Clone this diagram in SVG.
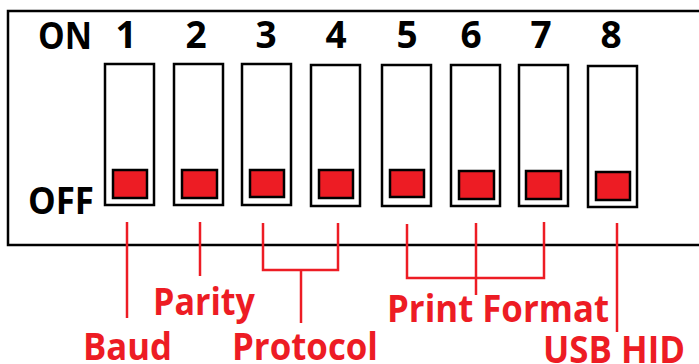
<svg xmlns="http://www.w3.org/2000/svg" width="699" height="364" viewBox="0 0 699 364">
<style>
.sw{fill:#fff;stroke:#000;stroke-width:2.5}
.kn{fill:#ED1C24;stroke:#000;stroke-width:2.5}
.bk{font-family:"Open Sans",Lato,sans-serif;font-weight:bold;font-size:37px;fill:#000}
.rd{font-family:"Open Sans",Lato,sans-serif;font-weight:bold;font-size:37px;fill:#ED1C24}
.ln{stroke:#ED1C24;stroke-width:2.5;fill:none}
</style>
<rect width="699" height="364" fill="#fff"/>
<g id="board">
<rect x="8" y="11" width="710" height="234" fill="none" stroke="#000" stroke-width="2.5"/>
<text class="bk" x="38" y="49" textLength="54" lengthAdjust="spacingAndGlyphs">ON</text>
<text class="bk" x="28" y="214" textLength="66" lengthAdjust="spacingAndGlyphs">OFF</text>
</g>
<g id="sw1"><rect class="sw" x="105" y="64" width="49" height="141"/><rect class="kn" x="113" y="170" width="34" height="28"/><text class="bk" x="126" y="48" text-anchor="middle">1</text></g>
<g id="sw2"><rect class="sw" x="174" y="64" width="49" height="141"/><rect class="kn" x="182" y="170" width="35" height="28"/><text class="bk" x="196" y="48" text-anchor="middle">2</text></g>
<g id="sw3"><rect class="sw" x="242" y="64" width="49" height="141"/><rect class="kn" x="250" y="170" width="34" height="27"/><text class="bk" x="266" y="48" text-anchor="middle">3</text></g>
<g id="sw4"><rect class="sw" x="311" y="65" width="49" height="141"/><rect class="kn" x="319" y="170" width="34" height="28"/><text class="bk" x="336" y="48" text-anchor="middle">4</text></g>
<g id="sw5"><rect class="sw" x="382" y="65" width="49" height="141"/><rect class="kn" x="390" y="170" width="34" height="27"/><text class="bk" x="407" y="48" text-anchor="middle">5</text></g>
<g id="sw6"><rect class="sw" x="451" y="65" width="49" height="141"/><rect class="kn" x="459" y="171" width="35" height="28"/><text class="bk" x="471" y="48" text-anchor="middle">6</text></g>
<g id="sw7"><rect class="sw" x="519" y="65" width="49" height="141"/><rect class="kn" x="526" y="171" width="35" height="28"/><text class="bk" x="541" y="48" text-anchor="middle">7</text></g>
<g id="sw8"><rect class="sw" x="588" y="66" width="49" height="141"/><rect class="kn" x="596" y="172" width="34" height="28"/><text class="bk" x="611" y="48" text-anchor="middle">8</text></g>
<g id="connectors">
<line class="ln" x1="127" y1="222" x2="127" y2="318"/>
<line class="ln" x1="200" y1="222" x2="200" y2="276"/>
<polyline class="ln" points="263,223 263,270 338,270 338,223"/>
<line class="ln" x1="301" y1="270" x2="301" y2="323"/>
<polyline class="ln" points="407,224 407,278 544,278 544,222"/>
<line class="ln" x1="476" y1="223" x2="476" y2="295"/>
<line class="ln" x1="617" y1="223" x2="617" y2="332"/>
</g>
<g id="labels">
<text class="rd" x="153" y="315" textLength="102" lengthAdjust="spacingAndGlyphs">Parity</text>
<text class="rd" x="83" y="360" textLength="89" lengthAdjust="spacingAndGlyphs">Baud</text>
<text class="rd" x="232" y="360" textLength="146" lengthAdjust="spacingAndGlyphs">Protocol</text>
<text class="rd" x="387" y="322" textLength="222" lengthAdjust="spacingAndGlyphs">Print Format</text>
<text class="rd" x="543" y="363" textLength="142" lengthAdjust="spacingAndGlyphs">USB HID</text>
</g>
</svg>
